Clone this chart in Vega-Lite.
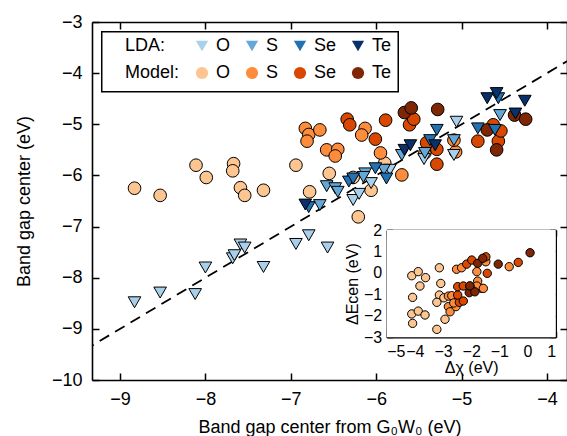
{
  "$schema": "https://vega.github.io/schema/vega-lite/v6.json",
  "width": 475,
  "height": 358,
  "autosize": {"type": "none"},
  "padding": {"left": 92, "top": 22, "right": 0, "bottom": 56},
  "background": "white",
  "config": {
    "font": "Liberation Sans",
    "view": {"stroke": null},
    "axis": {"grid": false, "domainColor": "black", "domainWidth": 1.6, "tickColor": "black", "tickWidth": 1.5, "labelColor": "black", "titleColor": "black", "titleFontWeight": "normal", "labelFont": "Liberation Sans", "titleFont": "Liberation Sans", "zindex": 1}
  },
  "datasets": {
    "diag": [{"v": -9.6}, {"v": -3.5}],
    "main": [
      {"k": "Model O", "x": -8.83, "y": -6.25}, {"k": "Model O", "x": -8.53, "y": -6.39}, {"k": "Model O", "x": -8.11, "y": -5.80}, {"k": "Model O", "x": -7.99, "y": -6.04},
      {"k": "Model O", "x": -7.67, "y": -5.77}, {"k": "Model O", "x": -7.68, "y": -5.91}, {"k": "Model O", "x": -7.59, "y": -6.24}, {"k": "Model O", "x": -7.54, "y": -6.39},
      {"k": "Model O", "x": -7.32, "y": -6.29}, {"k": "Model O", "x": -6.94, "y": -5.80}, {"k": "Model O", "x": -6.78, "y": -6.32}, {"k": "Model O", "x": -6.55, "y": -5.96},
      {"k": "Model O", "x": -6.21, "y": -6.81}, {"k": "Model O", "x": -6.06, "y": -6.29}, {"k": "Model O", "x": -5.90, "y": -5.76}, {"k": "Model O", "x": -6.27, "y": -6.04},
      {"k": "Model S", "x": -6.83, "y": -5.08}, {"k": "Model S", "x": -6.79, "y": -5.20}, {"k": "Model S", "x": -6.81, "y": -5.33}, {"k": "Model S", "x": -6.66, "y": -5.11},
      {"k": "Model S", "x": -6.58, "y": -5.50}, {"k": "Model S", "x": -6.45, "y": -5.49}, {"k": "Model S", "x": -6.48, "y": -5.62}, {"k": "Model S", "x": -6.13, "y": -5.08},
      {"k": "Model S", "x": -6.17, "y": -5.21}, {"k": "Model S", "x": -5.95, "y": -5.56}, {"k": "Model S", "x": -5.70, "y": -5.99}, {"k": "Model S", "x": -5.43, "y": -5.56},
      {"k": "Model S", "x": -5.07, "y": -5.54}, {"k": "Model S", "x": -5.09, "y": -5.31},
      {"k": "Model Se", "x": -6.34, "y": -4.90}, {"k": "Model Se", "x": -6.31, "y": -5.01}, {"k": "Model Se", "x": -5.89, "y": -4.92}, {"k": "Model Se", "x": -6.01, "y": -5.29},
      {"k": "Model Se", "x": -5.61, "y": -5.01}, {"k": "Model Se", "x": -5.56, "y": -4.90}, {"k": "Model Se", "x": -4.81, "y": -5.33}, {"k": "Model Se", "x": -4.57, "y": -5.33},
      {"k": "Model Se", "x": -4.54, "y": -5.13}, {"k": "Model Se", "x": -4.63, "y": -5.01}, {"k": "Model Se", "x": -5.29, "y": -5.49}, {"k": "Model Se", "x": -5.29, "y": -5.78},
      {"k": "Model Se", "x": -5.41, "y": -5.36},
      {"k": "Model Te", "x": -5.67, "y": -4.77}, {"k": "Model Te", "x": -5.59, "y": -4.68}, {"k": "Model Te", "x": -5.28, "y": -4.71}, {"k": "Model Te", "x": -4.70, "y": -5.11},
      {"k": "Model Te", "x": -4.59, "y": -5.50}, {"k": "Model Te", "x": -4.38, "y": -4.82}, {"k": "Model Te", "x": -4.25, "y": -4.90},
      {"k": "LDA O", "x": -8.83, "y": -8.48}, {"k": "LDA O", "x": -8.53, "y": -8.29}, {"k": "LDA O", "x": -8.12, "y": -8.32}, {"k": "LDA O", "x": -8.00, "y": -7.80},
      {"k": "LDA O", "x": -7.68, "y": -7.62}, {"k": "LDA O", "x": -7.66, "y": -7.56}, {"k": "LDA O", "x": -7.59, "y": -7.35}, {"k": "LDA O", "x": -7.54, "y": -7.41},
      {"k": "LDA O", "x": -7.32, "y": -7.79}, {"k": "LDA O", "x": -6.94, "y": -7.34}, {"k": "LDA O", "x": -6.79, "y": -7.17}, {"k": "LDA O", "x": -6.57, "y": -7.41},
      {"k": "LDA O", "x": -6.27, "y": -6.48}, {"k": "LDA O", "x": -6.20, "y": -6.36}, {"k": "LDA O", "x": -6.06, "y": -6.15}, {"k": "LDA O", "x": -5.84, "y": -5.89},
      {"k": "LDA O", "x": -5.44, "y": -5.68}, {"k": "LDA O", "x": -5.09, "y": -5.60}, {"k": "LDA O", "x": -5.06, "y": -4.95},
      {"k": "LDA S", "x": -6.58, "y": -6.21}, {"k": "LDA S", "x": -6.48, "y": -6.25}, {"k": "LDA S", "x": -6.45, "y": -6.32}, {"k": "LDA S", "x": -6.66, "y": -6.58},
      {"k": "LDA S", "x": -6.13, "y": -5.96}, {"k": "LDA S", "x": -6.15, "y": -6.03}, {"k": "LDA S", "x": -5.91, "y": -5.89}, {"k": "LDA S", "x": -5.70, "y": -5.60},
      {"k": "LDA S", "x": -5.09, "y": -5.31}, {"k": "LDA S", "x": -4.55, "y": -4.82}, {"k": "LDA S", "x": -5.43, "y": -5.56},
      {"k": "LDA Se", "x": -6.79, "y": -6.62}, {"k": "LDA Se", "x": -6.32, "y": -6.12}, {"k": "LDA Se", "x": -6.27, "y": -6.06}, {"k": "LDA Se", "x": -6.01, "y": -5.86},
      {"k": "LDA Se", "x": -5.88, "y": -6.06}, {"k": "LDA Se", "x": -5.37, "y": -5.31}, {"k": "LDA Se", "x": -5.29, "y": -5.11}, {"k": "LDA Se", "x": -4.81, "y": -5.08},
      {"k": "LDA Se", "x": -4.57, "y": -4.49}, {"k": "LDA Se", "x": -4.61, "y": -5.11},
      {"k": "LDA Te", "x": -6.83, "y": -6.57}, {"k": "LDA Te", "x": -5.67, "y": -5.50}, {"k": "LDA Te", "x": -5.60, "y": -5.41}, {"k": "LDA Te", "x": -5.31, "y": -5.41},
      {"k": "LDA Te", "x": -4.70, "y": -4.49}, {"k": "LDA Te", "x": -4.59, "y": -4.39}, {"k": "LDA Te", "x": -4.37, "y": -4.79}, {"k": "LDA Te", "x": -4.26, "y": -4.54}
    ],
    "inset": [
      {"k": "Model O", "x": -4.11, "y": -0.13}, {"k": "Model O", "x": -3.88, "y": 0.06}, {"k": "Model O", "x": -3.62, "y": -0.22}, {"k": "Model O", "x": -3.82, "y": -0.61},
      {"k": "Model O", "x": -4.08, "y": -1.14}, {"k": "Model O", "x": -4.11, "y": -1.91}, {"k": "Model O", "x": -3.88, "y": -1.78}, {"k": "Model O", "x": -3.64, "y": -1.96},
      {"k": "Model O", "x": -4.08, "y": -2.35}, {"k": "Model O", "x": -3.13, "y": 0.24}, {"k": "Model O", "x": -3.08, "y": -0.49}, {"k": "Model O", "x": -3.13, "y": -1.03},
      {"k": "Model O", "x": -2.97, "y": -1.16}, {"k": "Model O", "x": -3.22, "y": -1.37}, {"k": "Model O", "x": -2.93, "y": -2.16}, {"k": "Model O", "x": -3.22, "y": -2.63},
      {"k": "Model S", "x": -2.81, "y": -1.08}, {"k": "Model S", "x": -2.52, "y": 0.17}, {"k": "Model S", "x": -2.34, "y": 0.24}, {"k": "Model S", "x": -1.80, "y": 0.06},
      {"k": "Model S", "x": -1.63, "y": -0.72}, {"k": "Model S", "x": -1.77, "y": -0.38}, {"k": "Model S", "x": -0.65, "y": 0.29}, {"k": "Model S", "x": -2.81, "y": -1.57},
      {"k": "Model S", "x": -2.75, "y": -1.81}, {"k": "Model S", "x": -2.54, "y": -1.57}, {"k": "Model S", "x": -2.69, "y": -1.06}, {"k": "Model S", "x": -1.80, "y": -0.61},
      {"k": "Model S", "x": -1.48, "y": 0.52}, {"k": "Model S", "x": -2.62, "y": -1.40}, {"k": "Model S", "x": -1.57, "y": -0.72},
      {"k": "Model Se", "x": -1.43, "y": -0.02}, {"k": "Model Se", "x": -0.33, "y": 0.49}, {"k": "Model Se", "x": -2.42, "y": -1.37}, {"k": "Model Se", "x": -2.28, "y": -1.31},
      {"k": "Model Se", "x": -2.48, "y": -1.03}, {"k": "Model Se", "x": -2.48, "y": -0.64}, {"k": "Model Se", "x": -2.28, "y": -0.61}, {"k": "Model Se", "x": -2.04, "y": -0.64},
      {"k": "Model Se", "x": -2.16, "y": 0.41}, {"k": "Model Se", "x": -1.98, "y": 0.60}, {"k": "Model Se", "x": -1.48, "y": 0.75},
      {"k": "Model Te", "x": -1.04, "y": 0.41}, {"k": "Model Te", "x": 0.09, "y": 0.94}, {"k": "Model Te", "x": -2.07, "y": -0.92}, {"k": "Model Te", "x": -1.87, "y": -0.88},
      {"k": "Model Te", "x": -1.77, "y": 0.45}, {"k": "Model Te", "x": -1.59, "y": 0.68}, {"k": "Model Te", "x": -2.05, "y": -0.60}
    ]
  },
  "layer": [
    {
      "layer": [
        {
          "data": {"name": "diag"},
          "mark": {"type": "line", "strokeDash": [11, 7], "color": "black", "strokeWidth": 1.8, "clip": true},
          "encoding": {
            "x": {"field": "v", "type": "quantitative", "scale": {"domain": [-9.328, -3.766], "nice": false, "zero": false},
              "axis": {"orient": "bottom", "values": [-9, -8, -7, -6, -5, -4], "ticks": false, "domain": false, "labelPadding": 10, "labelFontSize": 18, "title": "Band gap center from G₀W₀ (eV)", "titleFontSize": 18, "titlePadding": 10}},
            "y": {"field": "v", "type": "quantitative", "scale": {"domain": [-10, -3], "nice": false, "zero": false},
              "axis": {"orient": "left", "values": [-10, -9, -8, -7, -6, -5, -4, -3], "ticks": false, "domain": false, "labelPadding": 10, "labelFontSize": 18, "title": "Band gap center (eV)", "titleFontSize": 18, "titlePadding": 18}}
          }
        },
        {
          "data": {"values": [{"box": "legend"}]},
          "mark": {"type": "rect", "fill": "white", "stroke": "black", "strokeWidth": 1.5},
          "encoding": {
            "x": {"datum": -9.214, "type": "quantitative",
              "axis": {"orient": "bottom", "offset": -358, "values": [-9, -8, -7, -6, -5, -4], "tickSize": 7, "labels": false, "title": null}},
            "x2": {"datum": -5.742},
            "y": {"datum": -3.19, "type": "quantitative",
              "axis": {"orient": "left", "offset": -475, "values": [-10, -9, -8, -7, -6, -5, -4, -3], "tickSize": 7, "labels": false, "title": null}},
            "y2": {"datum": -4.363}
          }
        },
        {
          "data": {"name": "main"},
          "mark": {"type": "point", "filled": true, "stroke": "black", "strokeWidth": 1, "opacity": 1, "size": 160},
          "encoding": {
            "x": {"field": "x", "type": "quantitative", "scale": {"domain": [-9.328, -3.766], "nice": false, "zero": false},
              "axis": {"orient": "top", "offset": -358, "values": [-9, -8, -7, -6, -5, -4], "tickSize": 7, "labels": false, "title": null}},
            "y": {"field": "y", "type": "quantitative", "scale": {"domain": [-10, -3], "nice": false, "zero": false},
              "axis": {"orient": "right", "offset": -475, "values": [-10, -9, -8, -7, -6, -5, -4, -3], "tickSize": 7, "labels": false, "title": null}},
            "fill": {"field": "k", "type": "nominal",
              "scale": {"domain": ["LDA O", "LDA S", "LDA Se", "LDA Te", "Model O", "Model S", "Model Se", "Model Te"],
                "range": ["#a8d0ea", "#63a8d8", "#2171b5", "#08306b", "#fdc590", "#fd8d3c", "#d94801", "#7f2704"]},
              "legend": {"title": ["LDA:", "Model:"], "titleOrient": "left", "titleFontSize": 18, "titleFontWeight": "normal", "titleLineHeight": 27, "titleBaseline": "top", "titleAnchor": "start", "titleAlign": "left", "titlePadding": 13,
                "labelFontSize": 18, "labelExpr": "split(datum.label, ' ')[1]", "columns": 4, "direction": "horizontal", "gridAlign": "each", "columnPadding": 12, "rowPadding": 9, "symbolSize": 150,
                "symbolStrokeColor": "black", "symbolStrokeWidth": 1, "labelOffset": 5, "padding": 0, "orient": "none", "legendX": 33, "legendY": 15}},
            "shape": {"field": "k", "type": "nominal",
              "scale": {"domain": ["LDA O", "LDA S", "LDA Se", "LDA Te", "Model O", "Model S", "Model Se", "Model Te"],
                "range": ["triangle-down", "triangle-down", "triangle-down", "triangle-down", "circle", "circle", "circle", "circle"]},
              "legend": {"title": ["LDA:", "Model:"], "titleOrient": "left", "titleFontSize": 18, "titleFontWeight": "normal", "titleLineHeight": 27, "titleBaseline": "top", "titleAnchor": "start", "titleAlign": "left", "titlePadding": 13,
                "labelFontSize": 18, "labelExpr": "split(datum.label, ' ')[1]", "columns": 4, "direction": "horizontal", "gridAlign": "each", "columnPadding": 12, "rowPadding": 9, "symbolSize": 150,
                "symbolStrokeColor": "black", "symbolStrokeWidth": 1, "labelOffset": 5, "padding": 0, "orient": "none", "legendX": 33, "legendY": 15}}
          }
        }
      ],
      "resolve": {"axis": {"x": "independent", "y": "independent"}}
    },
    {
      "layer": [
        {
          "data": {"values": [{"box": "inset"}]},
          "mark": {"type": "rect", "fill": "white"},
          "encoding": {
            "x": {"datum": -5, "type": "quantitative", "scale": {"domain": [-5, 1], "range": [294.7, 463.7], "nice": false, "zero": false},
              "axis": {"orient": "top", "offset": -315.3, "values": [-5, -4, -3, -2, -1, 0, 1], "tickSize": 6, "labels": false, "title": null}},
            "x2": {"datum": 1},
            "y": {"datum": -3, "type": "quantitative", "scale": {"domain": [-3, 2], "range": [315.3, 208], "nice": false, "zero": false},
              "axis": {"orient": "right", "offset": -180.3, "values": [-3, -2, -1, 0, 1, 2], "tickSize": 6, "labels": false, "title": null}},
            "y2": {"datum": 2}
          }
        },
        {
          "data": {"values": [{"box": "inset"}]},
          "mark": {"type": "rect", "opacity": 0},
          "encoding": {
            "x": {"datum": -5, "type": "quantitative",
              "axis": {"orient": "bottom", "offset": -150, "values": [-5, -4, -3, -2, -1, 0, 1], "tickSize": 6, "labels": false, "title": null}},
            "x2": {"datum": 1},
            "y": {"datum": -3, "type": "quantitative",
              "axis": {"orient": "left", "offset": -463.7, "values": [-3, -2, -1, 0, 1, 2], "tickSize": 6, "labels": false, "title": null}},
            "y2": {"datum": 2}
          }
        },
        {
          "data": {"name": "inset"},
          "mark": {"type": "circle", "stroke": "black", "strokeWidth": 1, "opacity": 1, "size": 70},
          "encoding": {
            "x": {"field": "x", "type": "quantitative", "scale": {"domain": [-5, 1], "range": [294.7, 463.7], "nice": false, "zero": false},
              "axis": {"orient": "bottom", "offset": -42.7, "values": [-5, -4, -3, -2, -1, 0, 1], "ticks": false, "domain": false, "labelPadding": 6, "labelFontSize": 16, "title": "Δχ (eV)", "titleFontSize": 16, "titlePadding": 0}},
            "y": {"field": "y", "type": "quantitative", "scale": {"domain": [-3, 2], "range": [315.3, 208], "nice": false, "zero": false},
              "axis": {"orient": "left", "offset": -294.7, "values": [-3, -2, -1, 0, 1, 2], "ticks": false, "domain": false, "labelPadding": 5, "labelFontSize": 16, "title": "ΔEcen (eV)", "titleFontSize": 16, "titlePadding": 3}},
            "fill": {"field": "k", "type": "nominal", "legend": null}
          }
        }
      ],
      "resolve": {"axis": {"x": "independent", "y": "independent"}}
    }
  ],
  "resolve": {"scale": {"x": "independent", "y": "independent"}}
}
